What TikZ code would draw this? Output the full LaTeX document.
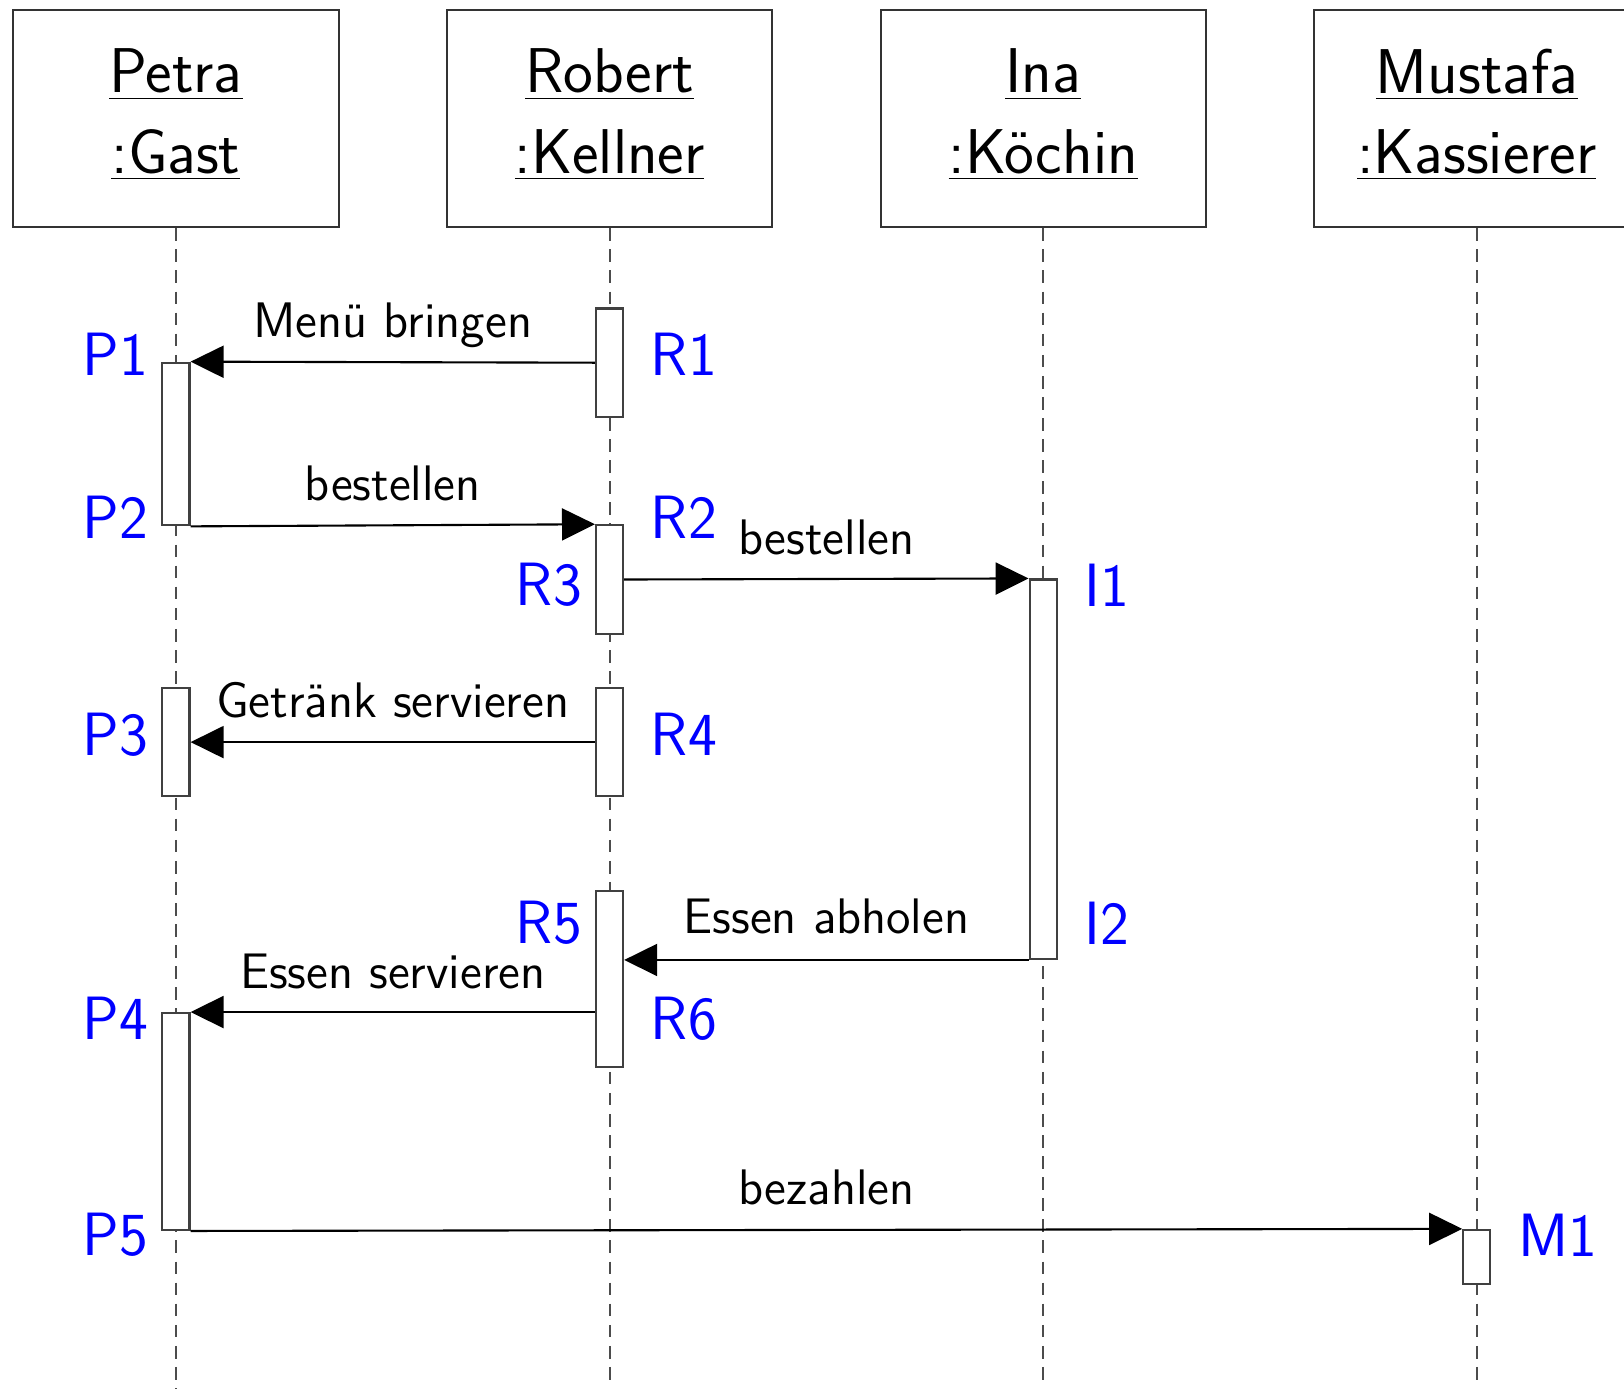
\documentclass[tikz,border=0pt]{standalone}
\usepackage{tikz}
\usetikzlibrary{arrows.meta}

\tikzset{
  head/.style={draw=black!80, line width=0.6pt, minimum width=3.252cm, minimum height=2.168cm,
    align=center, text depth=4.4pt, font=\sffamily\fontsize{18}{22.8}\selectfont},
  life/.style={draw=black!70, line width=0.6pt, dash pattern=on 3.6pt off 2.4pt},
  act/.style={draw=black!75, fill=white, line width=0.6pt, minimum width=0.271cm,
    minimum height=#1*0.542cm, inner sep=0pt},
  msg/.style={line width=0.6pt, -{Triangle[length=3.3mm, width=3.2mm]}},
  msgtext/.style={anchor=base, font=\sffamily\fontsize{14.2}{16}\selectfont},
  tag/.style={text=blue, inner sep=0pt, font=\sffamily\fontsize{17.4}{19}\selectfont}
}

\begin{document}
\begin{tikzpicture}[x=0.542cm, y=0.542cm]
\useasboundingbox (-3.247,0.192) rectangle (26.716,-25.435);

\node[head] (petra) at (0,-2) {\underline{Petra}\\\underline{:Gast}};
\node[head] (robert) at (8,-2) {\underline{Robert}\\\underline{:Kellner}};
\node[head] (ina) at (16,-2) {\underline{Ina}\\\underline{:Köchin}};
\node[head] (mustafa) at (24,-2) {\underline{Mustafa}\\\underline{:Kassierer}};

\coordinate (petraend) at (0,-25.6);
\coordinate (robertend) at (8,-25.27);
\coordinate (inaend) at (16,-25.27);
\coordinate (mustafaend) at (24,-25.27);
\draw[life] (petra.south) -- (petraend);
\draw[life] (robert.south) -- (robertend);
\draw[life] (ina.south) -- (inaend);
\draw[life] (mustafa.south) -- (mustafaend);

\node[act=3] (p1) at (0,-8) {};
\node[act=2] (r1) at (8,-6.5) {};
\node[act=2] (r23) at (8,-10.5) {};
\node[act=7] (i12) at (16,-14) {};
\node[act=2] (p3) at (0,-13.5) {};
\node[act=2] (r4) at (8,-13.5) {};
\node[act=3.25] (r56) at (8,-17.875) {};
\node[act=4] (p45) at (0,-20.5) {};
\node[act=1] (m1) at (24,-23) {};

\draw[msg] (r1.west) -- (p1.north east);
\draw[msg] (p1.south east) -- (r23.north west);
\draw[msg] (r23.east) -- (i12.north west);
\draw[msg] (r4.west) -- (p3.east);
\draw[msg] (i12.south west) -- (r56.east |- i12.south west);
\draw[msg] (r56.west |- p45.north east) -- (p45.north east);
\draw[msg] (p45.south east) -- (m1.north west);

\node[msgtext] (menu) at (4,-6.04) {Menü bringen};
\node[msgtext] (best1) at (4,-9.04) {bestellen};
\node[msgtext] (best2) at (12,-10.04) {bestellen};
\node[msgtext] (getr) at (4,-13.04) {Getränk servieren};
\node[msgtext] (abhol) at (12,-17.04) {Essen abholen};
\node[msgtext] (serv) at (4,-18.04) {Essen servieren};
\node[msgtext] (zahl) at (12,-22.04) {bezahlen};

\node[tag, anchor=east] (tp1) at (-0.5,-6.343) {P1};
\node[tag, anchor=west] (tr1) at (8.75,-6.343) {R1};
\node[tag, anchor=east] (tp2) at (-0.5,-9.343) {P2};
\node[tag, anchor=west] (tr2) at (8.75,-9.343) {R2};
\node[tag, anchor=east] (tr3) at (7.5,-10.605) {R3};
\node[tag, anchor=west] (ti1) at (16.75,-10.605) {I1};
\node[tag, anchor=east] (tp3) at (-0.5,-13.356) {P3};
\node[tag, anchor=west] (tr4) at (8.75,-13.356) {R4};
\node[tag, anchor=east] (tr5) at (7.5,-16.834) {R5};
\node[tag, anchor=west] (ti2) at (16.75,-16.834) {I2};
\node[tag, anchor=east] (tp4) at (-0.5,-18.6) {P4};
\node[tag, anchor=west] (tr6) at (8.75,-18.6) {R6};
\node[tag, anchor=east] (tp5) at (-0.5,-22.594) {P5};
\node[tag, anchor=west] (tm1) at (24.75,-22.594) {M1};
\end{tikzpicture}
\end{document}
